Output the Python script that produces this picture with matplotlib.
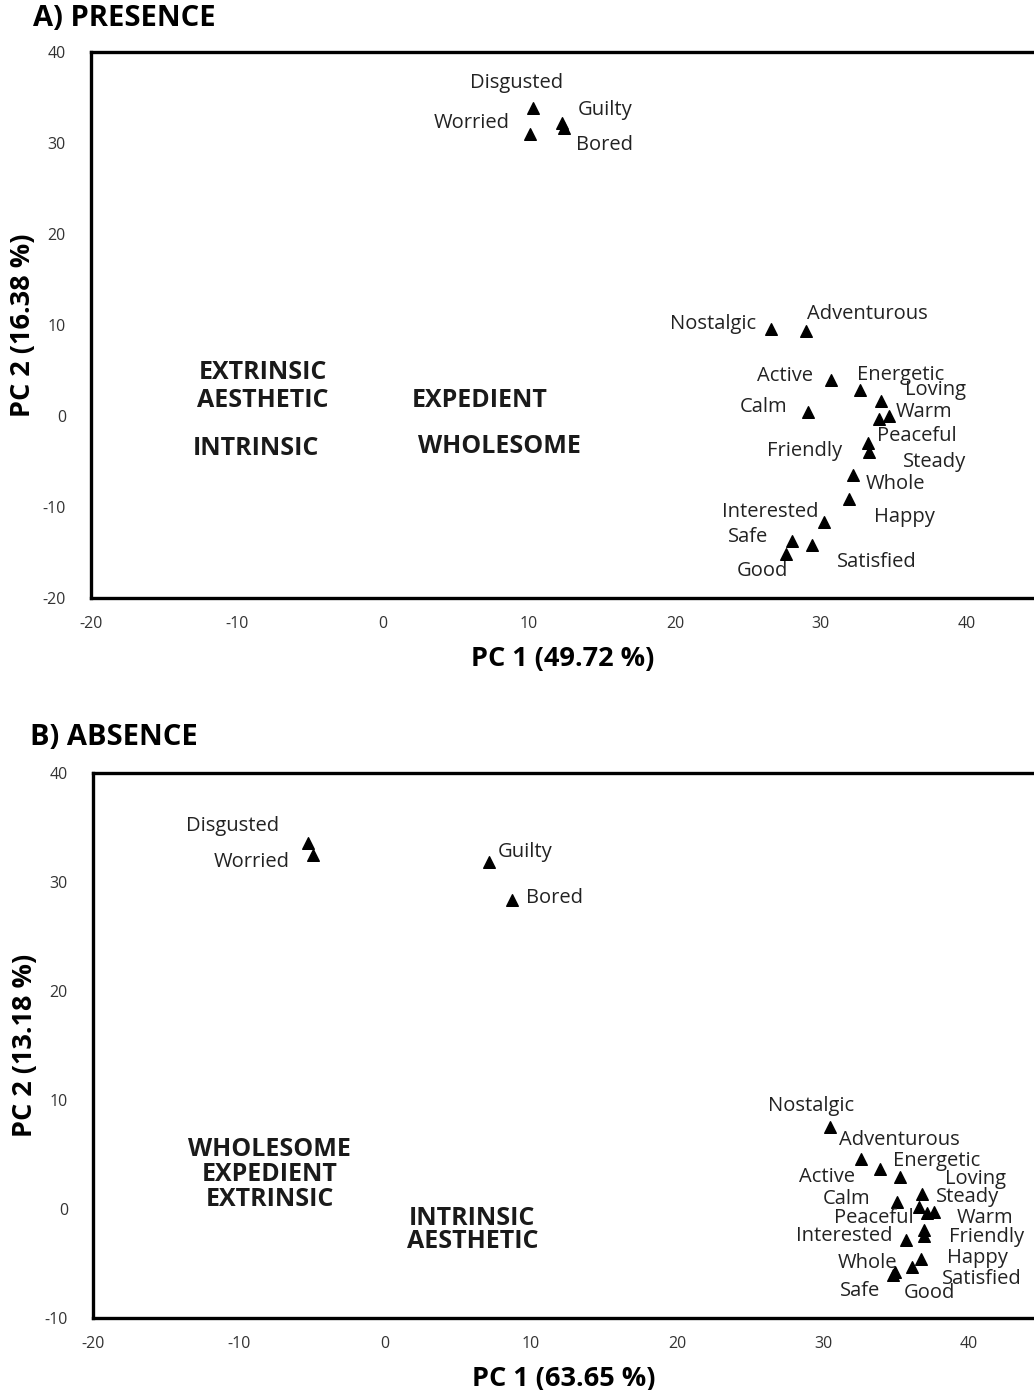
import matplotlib
matplotlib.use("Agg")
import matplotlib.pyplot as plt

plt.rcParams['font.family'] = ['Open Sans', 'DejaVu Sans']
plt.rcParams['axes.unicode_minus'] = False

# ---- A) PRESENCE ----
pres_labels = ['Disgusted', 'Worried', 'Guilty', 'Bored', 'Nostalgic', 'Adventurous',
               'Active', 'Energetic', 'Loving', 'Calm', 'Warm', 'Steady', 'Peaceful',
               'Friendly', 'Whole', 'Happy', 'Interested', 'Safe', 'Satisfied', 'Good']
pres_pc1 = [10.3, 10.1, 12.3, 12.4, 26.6, 29.0, 30.7, 32.7, 34.1, 29.1, 34.7, 34.0, 33.2,
            33.3, 32.2, 31.9, 30.2, 28.0, 29.4, 27.6]
pres_pc2 = [33.8, 31.0, 32.2, 31.6, 9.6, 9.3, 4.0, 2.9, 1.7, 0.4, 0.0, -0.3, -3.0,
            -4.0, -6.5, -9.1, -11.7, -13.7, -14.2, -15.2]

# ---- B) ABSENCE ----
abs_labels = ['Disgusted', 'Worried', 'Guilty', 'Bored', 'Nostalgic', 'Adventurous',
              'Active', 'Energetic', 'Loving', 'Calm', 'Steady', 'Warm', 'Peaceful',
              'Friendly', 'Good', 'Interested', 'Happy', 'Satisfied', 'Whole', 'Safe']
abs_pc1 = [-5.3, -4.9, 7.1, 8.7, 30.5, 32.6, 33.9, 35.3, 36.8, 35.1, 36.6, 37.6, 37.1,
           36.9, 36.9, 35.7, 36.7, 36.1, 34.8, 34.9]
abs_pc2 = [33.6, 32.5, 31.8, 28.4, 7.5, 4.6, 3.7, 2.9, 1.4, 0.6, 0.2, -0.25, -0.4,
           -1.9, -2.5, -2.8, -4.6, -5.3, -6.1, -5.8]

# group headings written inside each plot
pres_groups = ['EXTRINSIC', 'AESTHETIC', 'EXPEDIENT', 'INTRINSIC', 'WHOLESOME']
abs_groups = ['WHOLESOME', 'EXPEDIENT', 'EXTRINSIC', 'INTRINSIC', 'AESTHETIC']

# label placement: (dx, dy in pixels, horizontal alignment)
pres_offsets = {
    'Disgusted': (-17, 25, 'center'), 'Worried': (-21, 11, 'right'),
    'Guilty': (15, 13, 'left'), 'Bored': (12, -17, 'left'),
    'Nostalgic': (-15, 5, 'right'), 'Adventurous': (1, 17, 'left'),
    'Active': (-18, 4, 'right'), 'Energetic': (-3, 15, 'left'),
    'Loving': (24, 11, 'left'), 'Calm': (-20, 5, 'right'),
    'Warm': (6, 4, 'left'), 'Steady': (24, -43, 'left'),
    'Peaceful': (9, 7, 'left'), 'Friendly': (-27, 1, 'right'),
    'Whole': (13, -9, 'left'), 'Happy': (25, -18, 'left'),
    'Interested': (-5, 10, 'right'), 'Safe': (-23, 4, 'right'),
    'Satisfied': (25, -17, 'left'), 'Good': (2, -17, 'right'),
}
abs_offsets = {
    'Disgusted': (-75, 17, 'center'), 'Worried': (-24, -7, 'right'),
    'Guilty': (9, 10, 'left'), 'Bored': (14, 2, 'left'),
    'Nostalgic': (-19, 21, 'center'), 'Adventurous': (-22, 19, 'left'),
    'Active': (-25, -8, 'right'), 'Energetic': (-7, 16, 'left'),
    'Loving': (23, 15, 'left'), 'Calm': (-27, 3, 'right'),
    'Steady': (17, 10, 'left'), 'Warm': (23, -6, 'left'),
    'Peaceful': (-13, -5, 'right'), 'Friendly': (25, -7, 'left'),
    'Good': (6, -57, 'center'), 'Interested': (-14, 4, 'right'),
    'Happy': (26, 1, 'left'), 'Satisfied': (30, -12, 'left'),
    'Whole': (4, 12, 'right'), 'Safe': (-34, -19, 'center'),
}


def draw_panel(ax, pc1, pc2, labels, offsets, groups, group_xy, xlim, ylim, yticks,
               xlabel, ylabel):
    ax.scatter(pc1, pc2, marker='^', s=70, color='black', zorder=3)
    for x, y, name in zip(pc1, pc2, labels):
        dx, dy, ha = offsets[name]
        ax.annotate(name, (x, y), xytext=(dx, dy), textcoords='offset pixels',
                    ha=ha, va='center', fontsize=14.5, color='#222222')
    for text, (gx, gy) in zip(groups, group_xy):
        ax.text(gx, gy, text, ha='center', va='center', fontsize=18,
                fontweight='bold', color='#1a1a1a')
    ax.set_xlim(*xlim)
    ax.set_ylim(*ylim)
    ax.set_xticks(range(-20, 50, 10))
    ax.set_yticks(yticks)
    ax.tick_params(length=0, labelsize=11.5, colors='#333333')
    ax.tick_params(axis='x', pad=13)
    ax.tick_params(axis='y', pad=18)
    for side in ['left', 'bottom', 'top']:
        ax.spines[side].set_linewidth(2.4)
        ax.spines[side].set_color('black')
    ax.spines['right'].set_visible(False)
    ax.set_xlabel(xlabel, fontsize=19.5, fontweight='bold', labelpad=10)
    ax.set_ylabel(ylabel, fontsize=19.5, fontweight='bold', labelpad=5)


fig = plt.figure(figsize=(10.34, 13.9), dpi=100)

ax1 = fig.add_axes([0.088, 0.5698, 0.912, 0.3928])
draw_panel(ax1, pres_pc1, pres_pc2, pres_labels, pres_offsets, pres_groups,
           [(-8.2, 4.8), (-8.2, 1.75), (6.6, 1.75), (-8.7, -3.6), (7.95, -3.3)],
           (-20, 44.6), (-20, 40), range(-20, 50, 10),
           'PC 1 (49.72 %)', 'PC 2 (16.38 %)')

ax2 = fig.add_axes([0.0899, 0.0518, 0.9101, 0.392])
draw_panel(ax2, abs_pc1, abs_pc2, abs_labels, abs_offsets, abs_groups,
           [(-7.9, 5.5), (-7.9, 3.2), (-7.9, 0.9), (5.95, -0.85), (6.0, -2.95)],
           (-20, 44.45), (-10, 40), range(-10, 50, 10),
           'PC 1 (63.65 %)', 'PC 2 (13.18 %)')

fig.text(0.032, 0.987, 'A) PRESENCE', fontsize=21, fontweight='bold', va='center')
fig.text(0.029, 0.4695, 'B) ABSENCE', fontsize=21, fontweight='bold', va='center')

fig.savefig('out.png', dpi=100)
